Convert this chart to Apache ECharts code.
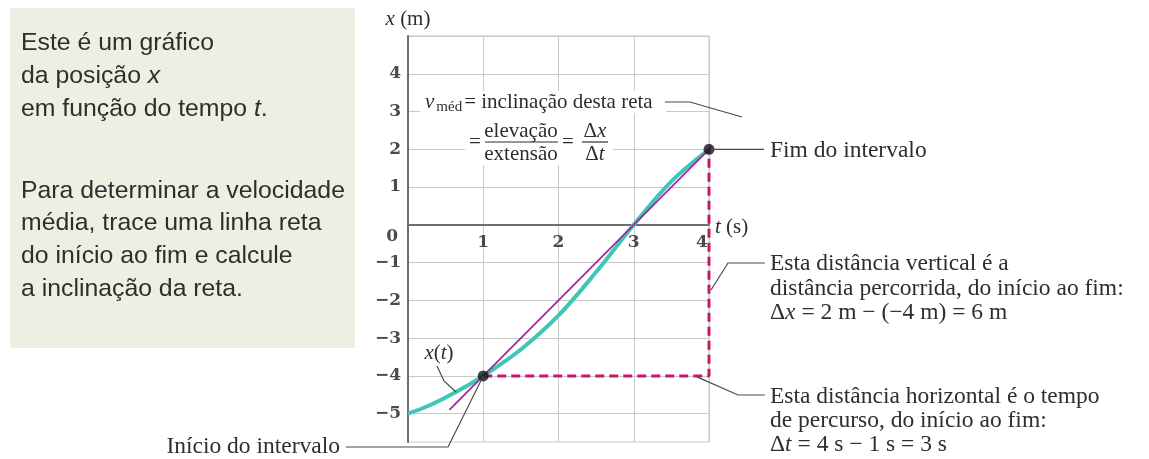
<!DOCTYPE html>
<html>
<head>
<meta charset="utf-8">
<script src="https://cdn.jsdelivr.net/npm/echarts@6/dist/echarts.min.js"></script>
<style>
html,body{margin:0;padding:0;background:#fff;}
#main{width:1149px;height:459px;}
</style>
</head>
<body>
<div id="main"></div>
<script>
// curva x(t)
var tCurva = [0, 0.25, 0.5, 0.75, 1, 1.5, 2, 2.5, 3, 3.5, 4, 4.4, 4.8];
var xCurva = [-5, -4.81, -4.57, -4.3, -4, -3.3, -2.4, -1.25, 0, 1.15, 2, 2.58, 2.86];
// reta da velocidade media
var tReta = [0.55, 4.8];
var xReta = [-4.9, 3.6];
// caminho tracejado (extensao e elevacao)
var tIntervalo = [1, 4, 4];
var xIntervalo = [-4, -4, 2];
// inicio e fim do intervalo
var tPontos = [1, 4];
var xPontos = [-4, 2];
// rotulos dos eixos
var ticksT = [1, 2, 3, 4];
var ticksX = [-5, -4, -3, -2, -1, 0, 1, 2, 3, 4];

var SERIF = '"Liberation Serif", "Times New Roman", serif';
var NUM = '"DejaVu Serif", serif';
var SANS = '"Liberation Sans", Arial, sans-serif';
var TXT = '#2e2e2e';
var GRADE = '#c9c9c9';

var X_MIN = -5.75, X_MAX = 5;
var GRID_H = 406;
// eixo t desenhado na altura x = 0
var offsetT = -(0 - X_MIN) / (X_MAX - X_MIN) * GRID_H;

function pares(a, b) {
    var out = [];
    for (var i = 0; i < a.length; i++) out.push([a[i], b[i]]);
    return out;
}

var option = {
    animation: false,
    grid: { left: 408, top: 36, width: 301, height: GRID_H, show: true, borderColor: GRADE, borderWidth: 1, outerBoundsMode: 'none' },
    xAxis: {
        type: 'value', min: 0, max: 4, interval: 1,
        offset: offsetT,
        name: '{i|t}{n| (s)}', nameLocation: 'end', nameGap: 6,
        nameTextStyle: { rich: {
            i: { fontFamily: SERIF, fontStyle: 'italic', fontSize: 21, color: TXT, padding: [6, 0, 0, 0] },
            n: { fontFamily: SERIF, fontSize: 21, color: TXT, padding: [6, 0, 0, 0] }
        } },
        axisLine: { onZero: false, lineStyle: { color: '#6e6e6e', width: 2 } },
        axisTick: { show: false },
        splitLine: { show: true, lineStyle: { color: GRADE, width: 1 } },
        axisLabel: {
            margin: 9, fontFamily: NUM, fontSize: 17, fontWeight: 'bold', color: '#4a4a4a',
            formatter: function (v) {
                if (ticksT.indexOf(v) < 0) return '';
                return v === 4 ? '{r|4}' : '' + v;
            },
            rich: { r: { fontFamily: NUM, fontSize: 17, fontWeight: 'bold', color: '#4a4a4a', padding: [0, 14, 0, 0] } }
        }
    },
    yAxis: {
        type: 'value', min: X_MIN, max: X_MAX, interval: 0.25,
        name: '{i|x}{n| (m)}', nameLocation: 'end', nameGap: 6,
        nameTextStyle: { rich: {
            i: { fontFamily: SERIF, fontStyle: 'italic', fontSize: 21, color: TXT },
            n: { fontFamily: SERIF, fontSize: 21, color: TXT }
        } },
        axisLine: { onZero: true, lineStyle: { color: '#6e6e6e', width: 2 } },
        axisTick: { show: false },
        splitLine: { show: true, lineStyle: { color: ['rgba(0,0,0,0)', 'rgba(0,0,0,0)', 'rgba(0,0,0,0)', GRADE], width: 1 } },
        axisLabel: {
            margin: 7, fontFamily: NUM, fontSize: 17, fontWeight: 'bold', color: '#4a4a4a',
            formatter: function (v) {
                if (ticksX.indexOf(v) < 0) return '';
                if (v === 0) return '{z|0}';
                return v < 0 ? '\u2212' + (-v) : '' + v;
            },
            rich: { z: { fontFamily: NUM, fontSize: 17, fontWeight: 'bold', color: '#4a4a4a', padding: [24, 3, 0, 0] } }
        }
    },
    series: [
        {
            name: 'x(t)', type: 'line', data: pares(tCurva, xCurva), smooth: 0.35,
            showSymbol: false, clip: false, z: 3,
            lineStyle: { color: '#3fc6b6', width: 4 }
        },
        {
            name: 'reta', type: 'line', data: pares(tReta, xReta),
            showSymbol: false, clip: false, z: 4,
            lineStyle: { color: '#a3279a', width: 1.8 }
        },
        {
            name: 'intervalo', type: 'line', data: pares(tIntervalo, xIntervalo),
            showSymbol: false, clip: false, z: 2,
            lineStyle: { color: '#c9176c', width: 3, type: [9, 5] }
        },
        {
            name: 'pontos', type: 'scatter', data: pares(tPontos, xPontos),
            symbolSize: 11, z: 6, itemStyle: { color: '#141414' }
        }
    ]
};

var chart = echarts.init(document.getElementById('main'));
chart.setOption(option);

var pIni = chart.convertToPixel({ gridIndex: 0 }, [tPontos[0], xPontos[0]]);
var pFim = chart.convertToPixel({ gridIndex: 0 }, [tPontos[1], xPontos[1]]);

// texto com trechos em italico
function rico(size, fam) {
    return {
        n: { fontFamily: fam, fontSize: size, color: TXT },
        i: { fontFamily: fam, fontSize: size, color: TXT, fontStyle: 'italic' },
        s: { fontFamily: fam, fontSize: 15, color: TXT, padding: [11, 2, 0, 2] }
    };
}
function texto(x, y, str, size, fam, align) {
    return {
        type: 'text', x: x, y: y, z: 20,
        style: { text: str, rich: rico(size, fam), font: size + 'px ' + fam, fill: TXT,
                 align: align || 'left', verticalAlign: 'middle' }
    };
}
function guia(pts) {
    return { type: 'polyline', z: 19, shape: { points: pts },
             style: { stroke: '#4a4a4a', lineWidth: 1.2, fill: null } };
}
function barra(x1, x2, y) {
    return { type: 'line', z: 20, shape: { x1: x1, y1: y, x2: x2, y2: y },
             style: { stroke: TXT, lineWidth: 1.2 } };
}

var g = [];
// caixa explicativa
g.push({ type: 'rect', z: 1, shape: { x: 10, y: 8, width: 345, height: 340 }, style: { fill: '#eeeee3' } });
var caixa = [
    ['{n|Este é um gráfico}', 43],
    ['{n|da posição }{i|x}', 76],
    ['{n|em função do tempo }{i|t}{n|.}', 109],
    ['{n|Para determinar a velocidade}', 191],
    ['{n|média, trace uma linha reta}', 223],
    ['{n|do início ao fim e calcule}', 256],
    ['{n|a inclinação da reta.}', 289]
];
for (var i = 0; i < caixa.length; i++) g.push(texto(21, caixa[i][1], caixa[i][0], 24.8, SANS));

// fundo branco atras da definicao de v_med
g.push({ type: 'rect', z: 18, shape: { x: 420, y: 91, width: 246, height: 22 }, style: { fill: '#fff' } });
g.push({ type: 'rect', z: 18, shape: { x: 465, y: 113, width: 148, height: 52 }, style: { fill: '#fff' } });
g.push(texto(425, 102, '{i|v}{s|méd}{n|= inclinação desta reta}', 21, SERIF));
g.push(guia([[665, 102], [690, 102], [742, 117]]));
g.push(texto(469, 142, '{n|=}', 21, SERIF));
g.push(texto(521, 131, '{n|elevação}', 21, SERIF, 'center'));
g.push(barra(485, 558, 142));
g.push(texto(521, 154, '{n|extensão}', 21, SERIF, 'center'));
g.push(texto(562, 142, '{n|=}', 21, SERIF));
g.push(texto(595, 131, '{n|Δ}{i|x}', 21, SERIF, 'center'));
g.push(barra(582, 608, 142));
g.push(texto(595, 154, '{n|Δ}{i|t}', 21, SERIF, 'center'));

// fim do intervalo
g.push(guia([[pFim[0] + 2, pFim[1]], [764, pFim[1]]]));
g.push(texto(770, 151, '{n|Fim do intervalo}', 23.5, SERIF));

// distancia vertical
g.push(guia([[pFim[0] + 2, 290], [728, 263], [765, 263]]));
g.push(texto(770, 264, '{n|Esta distância vertical é a}', 23.5, SERIF));
g.push(texto(770, 289, '{n|distância percorrida, do início ao fim:}', 23.5, SERIF));
g.push(texto(770, 313, '{n|Δ}{i|x}{n| = 2 m − (−4 m) = 6 m}', 23.5, SERIF));

// distancia horizontal
g.push(guia([[697, pIni[1] + 1], [738, 395], [765, 395]]));
g.push(texto(770, 397, '{n|Esta distância horizontal é o tempo}', 23.5, SERIF));
g.push(texto(770, 421, '{n|de percurso, do início ao fim:}', 23.5, SERIF));
g.push(texto(770, 445, '{n|Δ}{i|t}{n| = 4 s − 1 s = 3 s}', 23.5, SERIF));

// inicio do intervalo
g.push(guia([[346, 447], [448, 447], [pIni[0], pIni[1]]]));
g.push(texto(340, 447, '{n|Início do intervalo}', 23.5, SERIF, 'right'));

// rotulo da curva
g.push(guia([[437, 366], [444, 381], [456, 392]]));
g.push(texto(439, 353, '{i|x}{n|(}{i|t}{n|)}', 21, SERIF, 'center'));

chart.setOption({ graphic: g });
</script>
</body>
</html>
